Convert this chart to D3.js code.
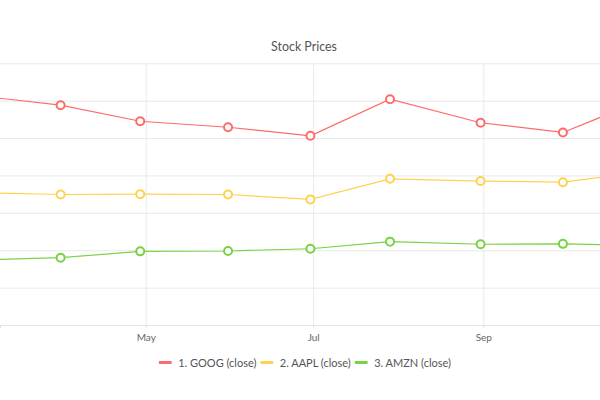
<!DOCTYPE html>
<html>
<head>
<meta charset="utf-8">
<script src="https://cdn.jsdelivr.net/npm/d3@7"></script>
<style>
  html, body { margin: 0; padding: 0; background: #fff; }
  svg { display: block; font-family: Lato, "Open Sans", sans-serif; }
</style>
</head>
<body>
<svg id="chart" width="600" height="400"></svg>
<script>
// ---- data ----
const dates = ["2016-02-29", "2016-03-31", "2016-04-29", "2016-05-31", "2016-06-30",
               "2016-07-29", "2016-08-31", "2016-09-30", "2016-10-31"];
const seriesNames = ["1. GOOG (close)", "2. AAPL (close)", "3. AMZN (close)"];
const goog = [614, 588, 545, 529, 506, 604, 541, 515, 607];
const aapl = [354, 349, 350, 349, 336, 391, 385, 382, 412];
const amzn = [174, 180, 197, 198, 204, 223, 216, 217, 212];
const xDomain = ["2016-03-08T22:00:00Z", "2016-10-13T12:00:00Z"];
const yTicks = [0, 100, 200, 300, 400, 500, 600, 700];
const xTicks = ["2016-05-01", "2016-07-01", "2016-09-01"];
const colors = ["#fd6b6b", "#ffd152", "#79d244"];
const title = "Stock Prices";

// ---- chart ----
const svg = d3.select("#chart");
const W = 600;
const plot = { left: 0, right: 600, top: 63.3, bottom: 325 };

const parse = d3.utcParse("%Y-%m-%d");
const x = d3.scaleUtc()
  .domain(xDomain.map(d => new Date(d)))
  .range([plot.left, plot.right]);
const y = d3.scaleLinear()
  .domain([d3.min(yTicks), d3.max(yTicks)])
  .range([plot.bottom, plot.top]);

svg.append("defs").append("clipPath").attr("id", "clip")
  .append("rect")
  .attr("x", plot.left).attr("y", plot.top - 10)
  .attr("width", plot.right - plot.left).attr("height", plot.bottom - plot.top + 10);

// title
svg.append("text")
  .attr("x", W / 2 + 4).attr("y", 50.5)
  .attr("text-anchor", "middle")
  .attr("font-size", 12.4)
  .attr("fill", "#555")
  .text(title);

// horizontal grid
svg.append("g")
  .attr("transform", `translate(${plot.left},0)`)
  .call(d3.axisLeft(y).tickValues(yTicks).tickSize(-(plot.right - plot.left)).tickFormat(""))
  .call(g => g.select(".domain").remove())
  .call(g => g.selectAll(".tick line").attr("stroke", "#e9e9e9").attr("stroke-width", 1));

// vertical grid
svg.append("g")
  .attr("transform", `translate(0,${plot.bottom})`)
  .call(d3.axisBottom(x).tickValues(xTicks.map(parse))
        .tickSize(-(plot.bottom - plot.top)).tickFormat(""))
  .call(g => g.select(".domain").remove())
  .call(g => g.selectAll(".tick line").attr("stroke", "#e9e9e9"));

// x axis
svg.append("g")
  .attr("transform", `translate(0,${plot.bottom})`)
  .call(d3.axisBottom(x).tickValues(xTicks.map(parse))
        .tickSize(3).tickPadding(6).tickFormat(d3.utcFormat("%b")))
  .call(g => g.select(".domain").attr("stroke", "#e3e3e3"))
  .call(g => g.selectAll(".tick line").attr("stroke", "#e3e3e3"))
  .call(g => g.selectAll(".tick text").attr("fill", "#666")
        .attr("font-size", 10).attr("font-family", "Lato, 'Open Sans', sans-serif"));

// series
const allSeries = [goog, aapl, amzn];
const line = d3.line()
  .x((d, i) => x(parse(dates[i])))
  .y(d => y(d));

const plotG = svg.append("g").attr("clip-path", "url(#clip)");
allSeries.forEach((vals, s) => {
  plotG.append("path")
    .datum(vals)
    .attr("fill", "none")
    .attr("stroke", colors[s])
    .attr("stroke-width", 1.2)
    .attr("d", line);
  plotG.selectAll(null)
    .data(vals)
    .join("circle")
    .attr("cx", (d, i) => x(parse(dates[i])))
    .attr("cy", d => y(d))
    .attr("r", 4)
    .attr("fill", "#fff")
    .attr("stroke", colors[s])
    .attr("stroke-width", 2);
});

// legend
const legend = svg.append("g").attr("font-size", 11);
const items = legend.selectAll("g.item").data(seriesNames).join("g").attr("class", "item");
items.append("line")
  .attr("x1", 0).attr("x2", 12.7).attr("y1", 0).attr("y2", 0)
  .attr("stroke", (d, i) => colors[i]).attr("stroke-width", 3);
items.append("text")
  .attr("x", 19.3).attr("y", 4)
  .attr("fill", "#555")
  .text(d => d);
let offsets = [], cur = 0;
items.each(function () {
  const w = this.getBBox().width;
  offsets.push(cur);
  cur += w + 4;
});
const total = cur - 4;
const startX = (W - total) / 2 + 5;
items.attr("transform", (d, i) => `translate(${startX + offsets[i]},362.5)`);
</script>
</body>
</html>
